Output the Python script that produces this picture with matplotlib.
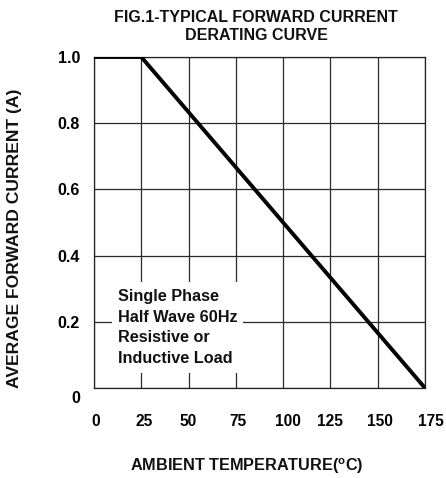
import matplotlib
matplotlib.use("Agg")
import matplotlib.pyplot as plt
from matplotlib.patches import Rectangle
import matplotlib.transforms as mtrans

plt.rcParams['font.family'] = ['Liberation Sans', 'DejaVu Sans']
plt.rcParams['font.weight'] = 'bold'

temps = [0, 25, 175]
current = [1.0, 1.0, 0.0]
xticks = [0, 25, 50, 75, 100, 125, 150, 175]
yticks = [0, 0.2, 0.4, 0.6, 0.8, 1.0]
ytick_labels = ['0', '0.2', '0.4', '0.6', '0.8', '1.0']
title = "FIG.1-TYPICAL FORWARD CURRENT\nDERATING CURVE"
note = "Single Phase\nHalf Wave 60Hz\nResistive or\nInductive Load"

fig = plt.figure(figsize=(4.46, 4.78), dpi=100)
W, H = 446, 478
left, right, top, bottom = 94, 425, 57, 388
ax = fig.add_axes([left / W, 1 - bottom / H, (right - left) / W, (bottom - top) / H])
ax.set_xlim(0, 175)
ax.set_ylim(0, 1.0)

ax.set_xticks(xticks)
ax.set_xticklabels([str(t) for t in xticks], fontsize=11.2, fontweight='bold')
ax.set_yticks(yticks)
ax.set_yticklabels(ytick_labels, fontsize=11.5, fontweight='bold')
ax.tick_params(length=0, pad=19, axis='x')
ax.tick_params(length=0, pad=10, axis='y')

# small label nudges (pixels)
x_nudge = [2, 3, 0, 2, 5, 0, 2, 6]
for lab, dx in zip(ax.get_xticklabels(), x_nudge):
    lab.set_transform(lab.get_transform() + mtrans.ScaledTranslation(dx / 100, 0, fig.dpi_scale_trans))
lab0 = ax.get_yticklabels()[0]
lab0.set_transform(lab0.get_transform() + mtrans.ScaledTranslation(0, -9 / 100, fig.dpi_scale_trans))

ax.grid(True, color='#2a2a2a', linewidth=0.9)
for s in ax.spines.values():
    s.set_linewidth(0.9)
    s.set_color('#222222')

# white box behind note
ax.add_patch(Rectangle((9.5, 0.045), 78.8 - 9.5, 0.320 - 0.045, facecolor='white', edgecolor='none', zorder=2))
ax.text(12.5, 0.299, note, fontsize=11.7, fontweight='bold', va='top', ha='left',
        linespacing=1.47, zorder=3, color='#111111')

ax.plot(temps, current, color='black', linewidth=2.8, zorder=4, solid_capstyle='butt')

fig.text(256 / W, 1 - 27 / H, title, ha='center', va='center', fontsize=11.5, fontweight='bold',
         linespacing=1.25, color='#111111')
fig.text(15 / W, 1 - 238 / H, "AVERAGE FORWARD CURRENT (A)", rotation=90, ha='center', va='center',
         fontsize=12.6, fontweight='bold', color='#111111')
fig.text(247 / W, 1 - 466 / H, r"AMBIENT TEMPERATURE($^{\mathregular{o}}$C)", ha='center', va='center',
         fontsize=11.7, fontweight='bold', color='#111111')

fig.savefig("out.png", dpi=100)
